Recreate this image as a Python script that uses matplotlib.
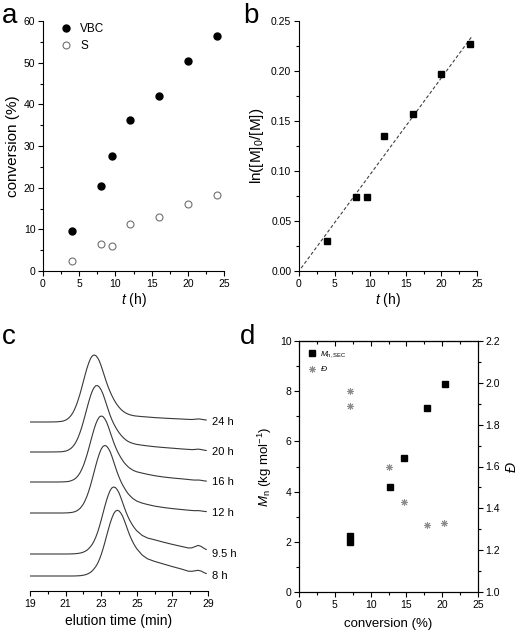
import numpy as np
import matplotlib
matplotlib.use("Agg")
import matplotlib.pyplot as plt
from matplotlib.ticker import MultipleLocator

plt.rcParams['font.family'] = ['Liberation Sans', 'DejaVu Sans']
plt.rcParams['mathtext.fontset'] = 'custom'
plt.rcParams['mathtext.rm'] = 'Liberation Sans'
plt.rcParams['mathtext.it'] = 'Liberation Sans:italic'
plt.rcParams['axes.linewidth'] = 0.8

# (a) conversion vs time
t_h = [4, 8, 9.5, 12, 16, 20, 24]
conv_vbc = [9.5, 20.3, 27.7, 36.3, 41.9, 50.4, 56.5]
conv_s = [2.5, 6.4, 5.9, 11.2, 13.0, 16.0, 18.2]

# (b) first order kinetics
ln_m0_m = [0.030, 0.074, 0.074, 0.135, 0.157, 0.197, 0.227]

# (c) SEC traces (signal above baseline, arbitrary units)
sec_time = [19.0, 20.0, 20.5,
            20.8, 20.9, 21.0, 21.1, 21.2, 21.3, 21.4, 21.5, 21.6, 21.7,
            21.8, 21.9, 22.0, 22.1, 22.2, 22.3, 22.4, 22.5, 22.6, 22.7,
            22.8, 22.9, 23.0, 23.1, 23.2, 23.3, 23.4, 23.5, 23.6, 23.7,
            23.8, 23.9, 24.0, 24.1, 24.2, 24.3, 24.4, 24.5, 24.6, 24.7,
            24.8, 24.9, 25.0,
            25.3, 25.6, 26.0, 26.5, 27.0, 27.5, 27.9, 28.1, 28.3, 28.45, 28.6, 28.8, 28.9]
sec_24h = [0, 0, 0.15,
           0.7, 1.2, 1.9, 2.9, 4.4, 6.4, 9.0, 12.5, 16.7, 21.8,
           27.5, 33.9, 40.7, 47.4, 53.7, 59.1, 63.4, 66.1, 67.0, 66.4,
           64.2, 60.8, 56.0, 50.6, 45.0, 39.6, 34.7, 30.3, 26.4, 22.9,
           19.8, 17.1, 14.8, 12.8, 11.2, 9.9, 8.8, 8.0, 7.3, 6.8,
           6.4, 6.1, 5.9,
           5.4, 5.0, 4.4, 3.9, 3.4, 3.0, 2.6, 2.5, 2.8, 3.1, 2.8, 2.2, 2.0]
sec_20h = [0, 0, 0.1,
           0.3, 0.6, 0.9, 1.5, 2.4, 3.6, 5.3, 7.6, 10.6, 14.4,
           19.0, 24.4, 30.5, 37.0, 43.7, 50.2, 56.1, 61.0, 64.4, 66.3,
           66.4, 64.8, 62.0, 58.0, 52.9, 47.4, 42.0, 36.8, 32.3, 28.4,
           25.1, 22.1, 19.4, 17.1, 15.1, 13.4, 11.9, 10.7, 9.8, 9.1,
           8.5, 8.0, 7.6,
           6.8, 6.1, 5.3, 4.5, 3.8, 3.1, 2.6, 2.4, 2.6, 2.9, 2.5, 1.8, 1.5]
sec_16h = [0, 0, 0,
           0.1, 0.15, 0.3, 0.4, 0.7, 1.2, 1.9, 2.9, 4.3, 6.3,
           8.9, 12.3, 16.4, 21.5, 27.1, 33.4, 40.1, 46.7, 52.9, 58.2,
           62.4, 65.1, 66.0, 65.4, 63.2, 60.0, 55.4, 50.1, 44.9, 39.7,
           35.2, 31.1, 27.6, 24.5, 21.7, 19.2, 17.2, 15.4, 13.9, 12.8,
           11.6, 10.9, 10.2,
           8.9, 7.7, 6.3, 5.0, 4.0, 3.2, 2.5, 2.1, 1.9, 2.0, 1.7, 1.1, 0.9]
sec_12h = [0, 0, 0,
           0, 0.04, 0.1, 0.15, 0.3, 0.45, 0.75, 1.2, 1.9, 3.0,
           4.4, 6.5, 9.1, 12.6, 16.8, 21.9, 27.7, 34.2, 41.0, 47.7,
           54.1, 59.5, 63.9, 66.6, 67.5, 66.9, 64.7, 61.4, 56.7, 51.3,
           45.9, 40.6, 36.0, 31.8, 28.2, 25.1, 22.2, 19.6, 17.6, 15.8,
           14.2, 13.1, 11.9,
           9.9, 8.5, 6.9, 5.5, 4.4, 3.5, 2.8, 2.5, 2.3, 2.4, 2.1, 1.6, 1.4]
sec_9h5 = [0, 0, 0,
           0, 0, 0, 0, 0.05, 0.1, 0.15, 0.25, 0.4, 0.6,
           0.9, 1.3, 1.9, 2.7, 3.8, 5.4, 7.3, 9.8, 13.0, 17.0,
           21.8, 27.5, 33.9, 40.7, 47.4, 53.7, 59.1, 63.4, 66.1, 67.0,
           66.4, 64.3, 61.1, 56.6, 51.6, 46.5, 41.7, 37.5, 33.8, 30.6,
           27.8, 25.3, 23.2,
           18.6, 16.0, 14.2, 11.8, 9.6, 7.6, 6.0, 6.2, 7.6, 8.6, 7.7, 5.4, 4.5]
sec_8h = [0, 0, 0,
          0, 0, 0, 0, 0, 0, 0, 0.05, 0.1, 0.2,
          0.3, 0.5, 0.8, 1.2, 1.8, 2.6, 3.7, 5.2, 7.2, 9.6,
          12.6, 16.6, 21.4, 27.0, 33.2, 39.9, 46.4, 52.6, 57.9, 62.2,
          64.8, 65.7, 65.1, 63.0, 59.9, 55.5, 50.6, 45.6, 40.9, 36.8,
          33.1, 30.0, 27.2,
          21.0, 17.2, 14.6, 12.0, 9.4, 7.0, 4.8, 4.7, 5.3, 5.7, 5.0, 3.2, 2.5]
sec_labels = ['24 h', '20 h', '16 h', '12 h', '9.5 h', '8 h']
sec_offsets = [169, 139, 109, 78, 37, 15]

# (d) molar mass and dispersity vs conversion
mn_conv = [7.1, 7.1, 12.7, 14.6, 17.9, 20.4]
mn_sec = [2.0, 2.23, 4.17, 5.33, 7.32, 8.3]
disp_conv = [7.1, 7.1, 12.6, 14.6, 17.9, 20.3]
disp = [1.96, 1.89, 1.60, 1.43, 1.32, 1.33]

W, H = 520, 634
fig = plt.figure(figsize=(W / 100, H / 100), dpi=100)


def box(l, r, t, b):
    return [l / W, 1 - b / H, (r - l) / W, (b - t) / H]


def style(ax, fs=7.5):
    ax.tick_params(which='both', direction='out', width=0.8, labelsize=fs, pad=2)
    ax.tick_params(which='major', length=3.5)
    ax.tick_params(which='minor', length=2)


# ---- a ----
ax = fig.add_axes(box(43, 224, 21, 271))
ax.plot(t_h, conv_vbc, 'o', color='black', ms=5, label='VBC')
ax.plot(t_h, conv_s, 'o', mfc='white', mec='#707070', mew=0.8, ms=5, label='S')
ax.set_xlim(0, 25)
ax.set_ylim(0, 60)
ax.xaxis.set_major_locator(MultipleLocator(5))
ax.xaxis.set_minor_locator(MultipleLocator(2.5))
ax.yaxis.set_major_locator(MultipleLocator(10))
ax.yaxis.set_minor_locator(MultipleLocator(5))
ax.spines[['top', 'right']].set_visible(False)
style(ax)
ax.set_xlabel('$t$ (h)', fontsize=10, labelpad=2)
ax.set_ylabel('conversion (%)', fontsize=11, labelpad=3)
ax.legend(loc='upper left', frameon=False, fontsize=8.5, handletextpad=0.6,
          borderaxespad=0.2, labelspacing=0.4, handlelength=1.2,
          bbox_to_anchor=(0.05, 1.02))

# ---- b ----
ax = fig.add_axes(box(299, 477, 21, 271))
slope = np.dot(t_h, ln_m0_m) / np.dot(t_h, t_h)
xfit = np.array([0.3, 24.3])
ax.plot(xfit, slope * xfit, ls=(0, (3, 2)), color='#404040', lw=0.8)
ax.plot(t_h, ln_m0_m, 's', color='black', ms=4.5)
ax.set_xlim(0, 25)
ax.set_ylim(0, 0.25)
ax.xaxis.set_major_locator(MultipleLocator(5))
ax.xaxis.set_minor_locator(MultipleLocator(2.5))
ax.yaxis.set_major_locator(MultipleLocator(0.05))
ax.yaxis.set_minor_locator(MultipleLocator(0.025))
ax.yaxis.set_major_formatter(plt.FormatStrFormatter('%.2f'))
ax.spines[['top', 'right']].set_visible(False)
style(ax)
ax.set_xlabel('$t$ (h)', fontsize=10, labelpad=2)
ax.set_ylabel('ln([M]$_0$/[M])', fontsize=11, labelpad=4)

# ---- c ----
ax = fig.add_axes(box(30, 208, 341, 591))
traces = [sec_24h, sec_20h, sec_16h, sec_12h, sec_9h5, sec_8h]
for y, off, lab in zip(traces, sec_offsets, sec_labels):
    ax.plot(sec_time, np.array(y) + off, color='#383838', lw=0.8)
    ax.text(29.2, off, lab, fontsize=8, va='center', ha='left', clip_on=False)
ax.set_xlim(19, 29)
ax.set_ylim(0, 250)
ax.set_xticks([19, 21, 23, 25, 27, 29])
ax.xaxis.set_minor_locator(MultipleLocator(1))
ax.set_yticks([])
ax.spines[['top', 'right', 'left']].set_visible(False)
style(ax, 7.5)
ax.set_xlabel('elution time (min)', fontsize=10, labelpad=4)

# ---- d ----
ax = fig.add_axes(box(299, 478, 341, 592))
ax2 = ax.twinx()
ax.plot(mn_conv, mn_sec, 's', color='black', ms=3.8, label='$M_{\\rm n,SEC}$')
ax2.plot(disp_conv, disp, marker=(8, 2, 0), ls='none', color='#8c8c8c',
         mew=0.7, ms=5, label='$\\it{Đ}$')
ax.set_xlim(0, 25)
ax.set_ylim(0, 10)
ax2.set_ylim(1.0, 2.2)
ax.xaxis.set_major_locator(MultipleLocator(5))
ax.xaxis.set_minor_locator(MultipleLocator(2.5))
ax.yaxis.set_major_locator(MultipleLocator(2))
ax.yaxis.set_minor_locator(MultipleLocator(1))
ax2.yaxis.set_major_locator(MultipleLocator(0.2))
ax2.yaxis.set_minor_locator(MultipleLocator(0.1))
style(ax, 7.5)
style(ax2, 7.5)
top = ax.secondary_xaxis('top')
top.xaxis.set_major_locator(MultipleLocator(5))
top.xaxis.set_minor_locator(MultipleLocator(2.5))
top.tick_params(which='both', direction='in', labeltop=False, width=0.8)
top.tick_params(which='major', length=3.5)
top.tick_params(which='minor', length=2)
ax.set_xlabel('conversion (%)', fontsize=9.5, labelpad=6)
ax.set_ylabel('$M_{\\rm n}$ (kg mol$^{-1}$)', fontsize=9.5, labelpad=4)
ax2.set_ylabel('Đ', fontstyle='italic', fontsize=10, labelpad=3)
h1, l1 = ax.get_legend_handles_labels()
h2, l2 = ax2.get_legend_handles_labels()
ax.legend(h1 + h2, l1 + l2, loc='upper left', frameon=False, fontsize=6,
          handletextpad=0.5, labelspacing=0.5, handlelength=1.0,
          borderaxespad=0.6)

# panel letters
fig.text(2 / W, 1 - 23 / H, 'a', fontsize=20)
fig.text(243 / W, 1 - 23 / H, 'b', fontsize=20)
fig.text(2 / W, 1 - 344 / H, 'c', fontsize=20)
fig.text(240 / W, 1 - 344 / H, 'd', fontsize=20)

fig.savefig('out.png', dpi=100)
